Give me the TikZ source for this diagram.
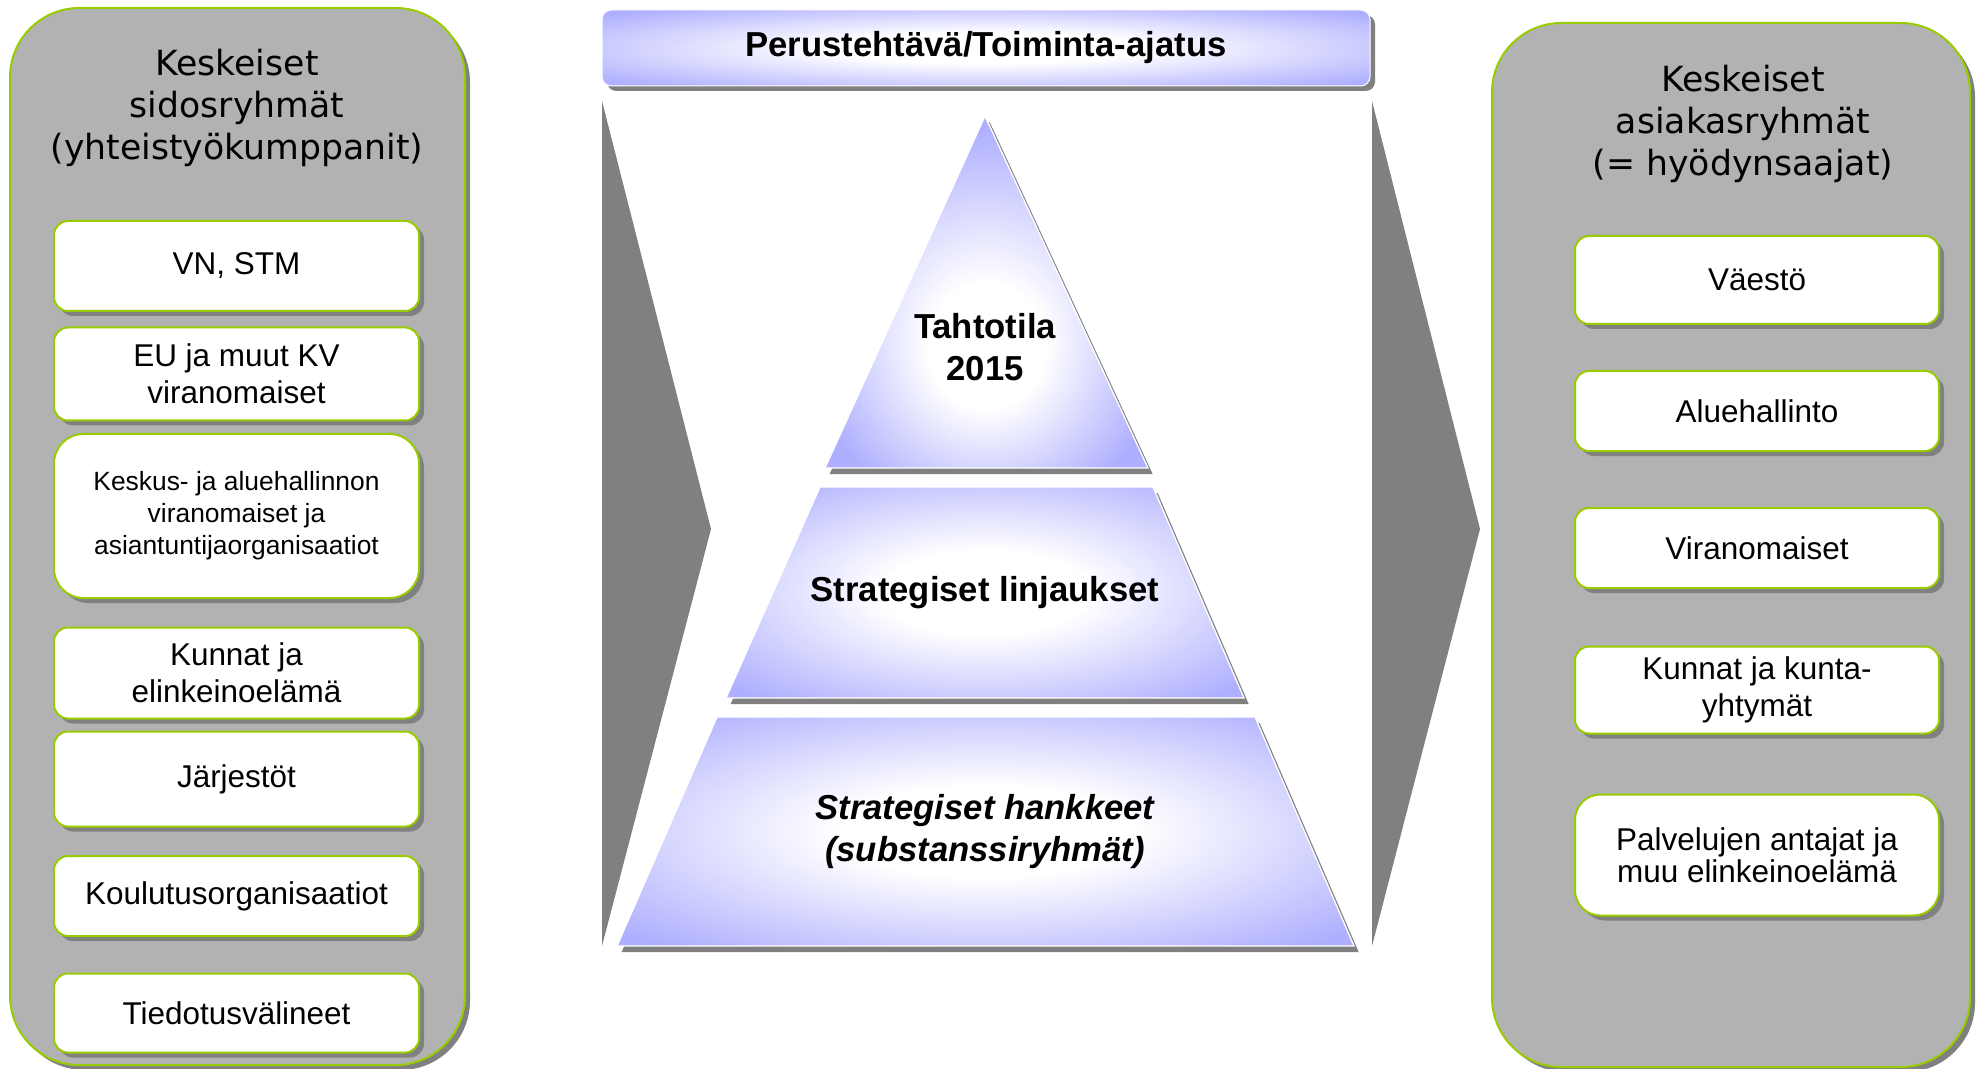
\documentclass[tikz,border=0pt]{standalone}
\usepackage{fontspec}
\setmainfont{Liberation Sans}
\newfontfamily\titlefont{DejaVu Sans}
\usetikzlibrary{shadows}

\definecolor{panelgrey}{RGB}{178,178,178}
\definecolor{shadegrey}{RGB}{128,128,128}
\definecolor{limegreen}{RGB}{153,204,0}
\definecolor{pyrblue}{RGB}{175,175,255}

\pgfdeclareradialshading{pyrglow}{\pgfpoint{0bp}{0bp}}{color(0bp)=(white); color(10bp)=(white); color(33bp)=(pyrblue); color(50bp)=(pyrblue)}
\pgfdeclareradialshading{peakglow}{\pgfpoint{0bp}{-9bp}}{color(0bp)=(white); color(9bp)=(white); color(28bp)=(pyrblue); color(60bp)=(pyrblue)}

\tikzset{every picture/.style={line width=0.75pt}}
\tikzset{
  greyshadow/.style={drop shadow={shadow xshift=3.75pt,shadow yshift=-3.75pt,fill=shadegrey,opacity=1}},
  panel/.style={fill=panelgrey,draw=limegreen,line width=1.5pt,rounded corners=52pt,greyshadow},
  paneltitle/.style={align=center,inner sep=0pt,font=\titlefont\fontsize{26}{31.8}\selectfont},
  sidebox/.style={draw=limegreen,fill=white,line width=1.5pt,rounded corners=10.5pt,greyshadow,align=center,inner sep=0pt,font=\fontsize{23.6}{27.7}\selectfont},
  leftbox/.style={sidebox,minimum width=273.75pt},
  rightbox/.style={sidebox,minimum width=273pt},
  banner/.style={shade,shading=pyrglow,draw=white,rounded corners=7pt,greyshadow,inner sep=0pt,minimum width=576pt,minimum height=57pt,font=\bfseries\fontsize{26}{30}\selectfont},
  pyrpiece/.style={shade,shading=pyrglow,draw=white,line width=1pt,drop shadow={shadow xshift=3.5pt,shadow yshift=-4.5pt,fill=shadegrey,opacity=1}},
  pyrlabel/.style={align=center,inner sep=0pt,font=\bfseries\fontsize{26}{31.5}\selectfont},
  chevron/.style={fill=shadegrey}
}

\begin{document}
\begin{tikzpicture}[x=0.75pt,y=0.75pt,yscale=-1,xscale=1]
\useasboundingbox (0,0) rectangle (1983,1069);

%Shape: Rounded Rectangle [left panel]
\draw[panel] (10,8) rectangle (465,1065);
%Shape: Rounded Rectangle [right panel]
\draw[panel] (1492,23) rectangle (1970,1067);

%Shape: Chevron [left]
\fill[chevron] (602,101) -- (711,529) -- (602,946) -- cycle;
%Shape: Chevron [right]
\fill[chevron] (1372,101) -- (1480,529) -- (1372,946) -- cycle;

%Shape: Triangle [top of pyramid]
\path[pyrpiece,shading=peakglow] (985,116) -- (1148,468) -- (825,468) -- cycle;
%Shape: Trapezoid [middle]
\path[pyrpiece] (820,487) -- (1153,487) -- (1244,698) -- (726,698) -- cycle;
%Shape: Trapezoid [bottom]
\path[pyrpiece] (717,717) -- (1255,717) -- (1354,946) -- (617,946) -- cycle;

% Text Node
\node[banner] (mission) at (986,48) {Perustehtävä/Toiminta-ajatus};
% Text Node
\node[pyrlabel] (vision) at (985,347) {Tahtotila\\2015};
% Text Node
\node[pyrlabel] (policies) at (985,593) {Strategiset linjaukset};
% Text Node
\node[pyrlabel,font=\bfseries\itshape\fontsize{26}{31.5}\selectfont] (projects) at (985,832) {Strategiset hankkeet\\(substanssiryhmät)};

% Text Node
\node[paneltitle] (partners) at (237,108) {Keskeiset\\sidosryhmät\\(yhteistyökumppanit)};
% Text Node
\node[paneltitle] (clients) at (1743,124) {Keskeiset\\asiakasryhmät\\(= hyödynsaajat)};

% Text Node
\node[leftbox,minimum height=67.5pt] (vnstm) at (236.5,266) {VN, STM};
% Text Node
\node[leftbox,minimum height=69.75pt] (eukv) at (236.5,374) {EU ja muut KV\\viranomaiset};
% Text Node
\node[leftbox,minimum height=123pt,rounded corners=22pt,font=\fontsize{19.8}{24}\selectfont] (keskus) at (236.5,516) {Keskus- ja aluehallinnon\\viranomaiset ja\\asiantuntijaorganisaatiot};
% Text Node
\node[leftbox,minimum height=68.25pt] (kunnat) at (236.5,673) {Kunnat ja\\elinkeinoelämä};
% Text Node
\node[leftbox,minimum height=71.25pt] (jarjestot) at (236.5,779) {Järjestöt};
% Text Node
\node[leftbox,minimum height=60pt] (koulutus) at (236.5,896) {Koulutusorganisaatiot};
% Text Node
\node[leftbox,minimum height=59.25pt] (media) at (236.5,1013) {Tiedotusvälineet};

% Text Node
\node[rightbox,minimum height=66pt] (vaesto) at (1757,280) {Väestö};
% Text Node
\node[rightbox,minimum height=60pt] (alue) at (1757,411) {Aluehallinto};
% Text Node
\node[rightbox,minimum height=60pt] (viran) at (1757,548) {Viranomaiset};
% Text Node
\node[rightbox,minimum height=65.25pt] (kuntayht) at (1757,690) {Kunnat ja kunta-\\yhtymät};
% Text Node
\node[rightbox,minimum height=90.75pt,rounded corners=19pt,font=\fontsize{23.6}{24}\selectfont] (palvelu) at (1757,855) {Palvelujen antajat ja\\muu elinkeinoelämä};

\end{tikzpicture}
\end{document}
